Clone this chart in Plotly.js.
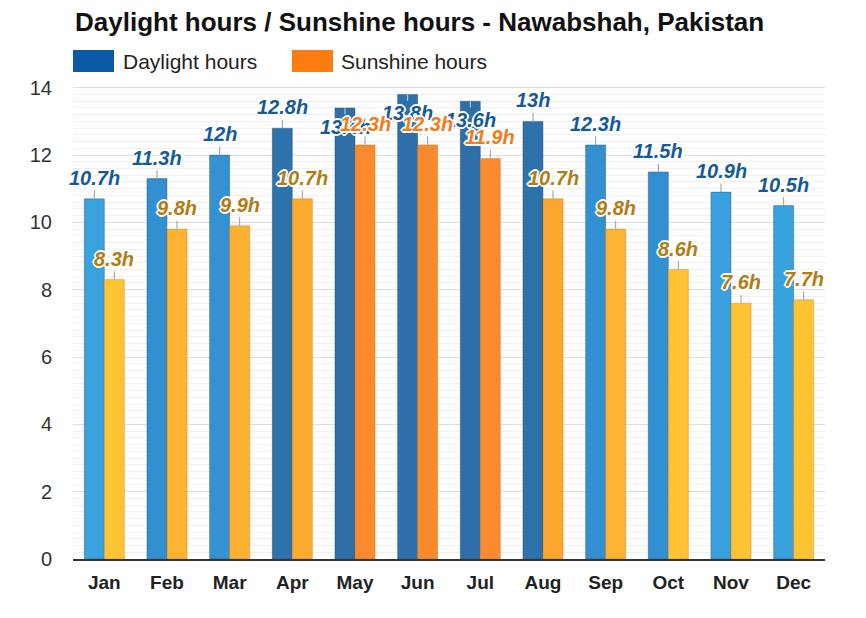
<!DOCTYPE html>
<html>
<head>
<meta charset="utf-8">
<script src="https://cdn.plot.ly/plotly-3.0.1.min.js"></script>
<style>html,body{margin:0;padding:0;background:#fff;}#chart{width:866px;height:618px;}</style>
</head>
<body>
<div id="chart"></div>
<script>
const months = ["Jan","Feb","Mar","Apr","May","Jun","Jul","Aug","Sep","Oct","Nov","Dec"];
const daylightHours = [10.7, 11.3, 12, 12.8, 13.4, 13.8, 13.6, 13, 12.3, 11.5, 10.9, 10.5];
const sunshineHours = [8.3, 9.8, 9.9, 10.7, 12.3, 12.3, 11.9, 10.7, 9.8, 8.6, 7.6, 7.7];
const yTicks = [0, 2, 4, 6, 8, 10, 12, 14];

const daylightColors = ["#3aa3dd","#3390d0","#3592d1","#2e72ab","#2e6fa8","#2e70a9","#2e6fa8","#2e72ab","#3390d0","#3390d0","#38a0dc","#38a2dd"];
const sunshineColors = ["#ffc433","#fdb231","#fdb031","#fcab30","#fb8a2e","#fb8a2e","#fb8a2e","#fca630","#fdb231","#fec233","#ffc233","#ffc433"];
const sunshineLabelColors = ["#b37c12","#b37c12","#b37c12","#b37c12","#f07c1c","#f07c1c","#f07c1c","#b37c12","#b37c12","#b37c12","#b37c12","#b37c12"];

const FONT = "Liberation Sans, Arial, Helvetica, sans-serif";
const halo = "1px 1px 0 #fff, -1px -1px 0 #fff, 1px -1px 0 #fff, -1px 1px 0 #fff, 0 2px 0 #fff, 0 -2px 0 #fff, 2px 0 0 #fff, -2px 0 0 #fff";

const traces = [
  {
    type: "bar", name: "Daylight hours", x: months, y: daylightHours,
    marker: {color: daylightColors, line: {color: "rgba(20,60,110,0.35)", width: 1}},
    hoverinfo: "x+y", showlegend: false
  },
  {
    type: "bar", name: "Sunshine hours", x: months, y: sunshineHours,
    marker: {color: sunshineColors, line: {color: "rgba(200,110,20,0.35)", width: 1}},
    hoverinfo: "x+y", showlegend: false
  }
];

const annotations = [];
months.forEach((m, i) => {
  const v = daylightHours[i];
  const inside = v > 13.2;
  annotations.push({
    x: m, y: v, xref: "x", yref: "y", xshift: -10,
    text: v + "h", showarrow: true, arrowhead: 0, arrowwidth: 1,
    arrowcolor: inside ? "#c8d6e4" : "#999",
    ax: 0, ay: inside ? 19 : -21,
    font: {family: FONT, size: 20, color: "#155a98", weight: 700, style: "italic", shadow: halo}
  });
});
months.forEach((m, i) => {
  const v = sunshineHours[i];
  annotations.push({
    x: m, y: v, xref: "x", yref: "y", xshift: 10,
    text: v + "h", showarrow: true, arrowhead: 0, arrowwidth: 1, arrowcolor: "#999",
    ax: 0, ay: -21,
    font: {family: FONT, size: 20, color: sunshineLabelColors[i], weight: 700, style: "italic", shadow: halo}
  });
});

// title and legend
annotations.push({
  xref: "paper", yref: "paper", x: 0, y: 1, xanchor: "left", yanchor: "middle",
  yshift: 81 - 22, text: "<b>Daylight hours / Sunshine hours - Nawabshah, Pakistan</b>",
  showarrow: false, font: {family: FONT, size: 26, color: "#111"}
});
annotations.push({
  xref: "paper", yref: "paper", x: 0, y: 1, xanchor: "left", yanchor: "middle",
  xshift: 48, yshift: 81 - 61, text: "Daylight hours",
  showarrow: false, font: {family: FONT, size: 21, color: "#222"}
});
annotations.push({
  xref: "paper", yref: "paper", x: 0, y: 1, xanchor: "left", yanchor: "middle",
  xshift: 266, yshift: 81 - 61, text: "Sunshine hours",
  showarrow: false, font: {family: FONT, size: 21, color: "#222"}
});

const shapes = [
  {type: "rect", xref: "paper", yref: "paper", xsizemode: "pixel", ysizemode: "pixel",
   xanchor: 0, yanchor: 1, x0: 0, x1: 41, y0: 31, y1: 9, fillcolor: "#0b5aa5", line: {width: 0}},
  {type: "rect", xref: "paper", yref: "paper", xsizemode: "pixel", ysizemode: "pixel",
   xanchor: 0, yanchor: 1, x0: 219, x1: 260, y0: 31, y1: 9, fillcolor: "#fe7b10", line: {width: 0}}
];

const layout = {
  width: 866, height: 618,
  margin: {l: 73, r: 41, t: 81, b: 59, pad: 0},
  paper_bgcolor: "#fff", plot_bgcolor: "#fff",
  barmode: "group", bargap: 0.36, bargroupgap: 0,
  showlegend: false,
  font: {family: FONT, color: "#333"},
  xaxis: {
    type: "category", categoryarray: months, automargin: false,
    range: [-0.5, months.length - 0.5],
    showgrid: false, zeroline: false,
    showline: true, linecolor: "#333", linewidth: 1.5,
    ticks: "", ticklabelstandoff: 6,
    tickfont: {family: FONT, size: 19, color: "#222", weight: 700}
  },
  yaxis: {
    range: [0, 14.2], tickvals: yTicks, ticktext: yTicks.map(String), automargin: false,
    showgrid: true, gridcolor: "#dedede", gridwidth: 1,
    minor: {dtick: 0.2, showgrid: true, gridcolor: "#f0f0f0", gridwidth: 1},
    zeroline: false, showline: false, ticks: "",
    ticklabelstandoff: 20,
    tickfont: {family: FONT, size: 20, color: "#333"}
  },
  annotations: annotations,
  shapes: shapes
};

Plotly.newPlot("chart", traces, layout, {displayModeBar: false, staticPlot: true});
</script>
</body>
</html>
